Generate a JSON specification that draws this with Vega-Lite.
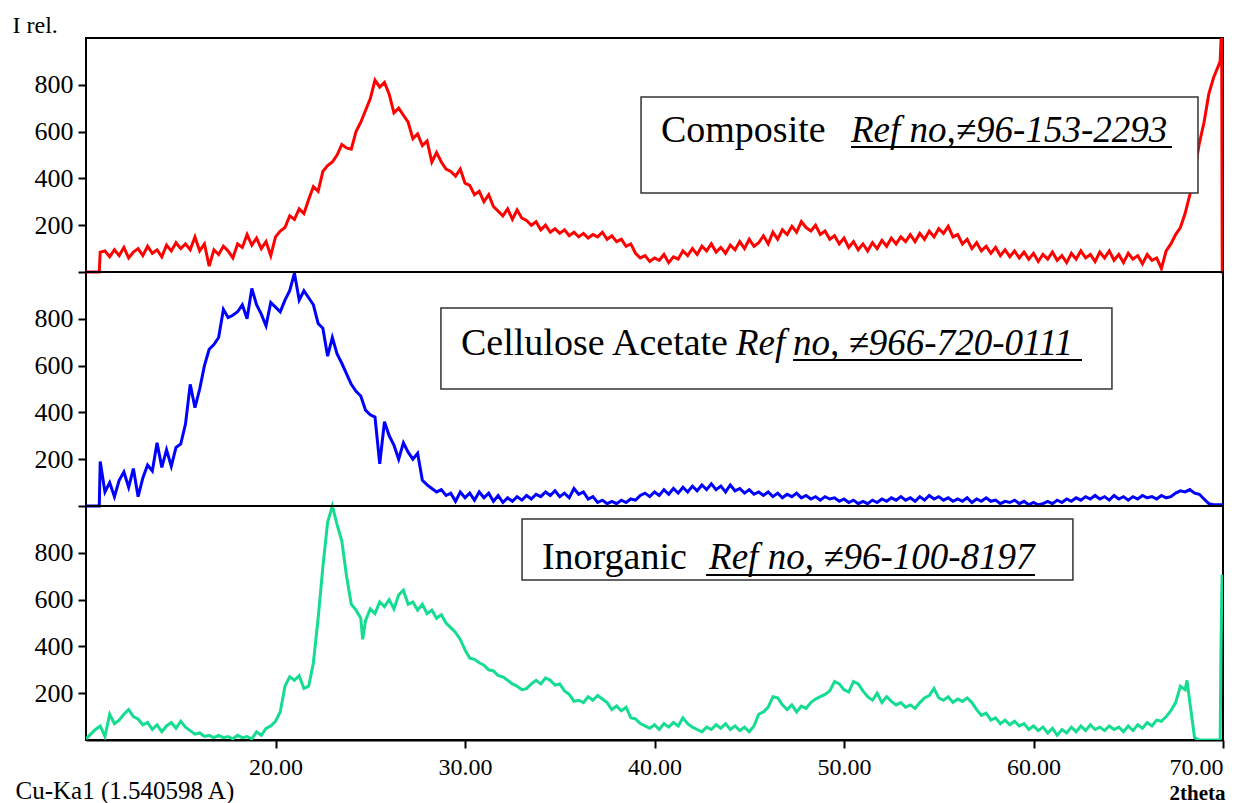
{
"$schema": "https://vega.github.io/schema/vega-lite/v6.json",
"width": 1137,
"height": 702,
"autosize": {"type": "none"},
"padding": {"left": 86, "top": 38, "right": 30, "bottom": 63},
"background": "white",
"config": {
  "view": {"stroke": "black", "strokeWidth": 2},
  "axis": {"labelFont": "Liberation Serif", "titleFont": "Liberation Serif", "labelColor": "black", "titleColor": "black", "tickColor": "black", "domainColor": "black", "grid": false},
  "axisX": {"format": ".2f", "tickSize": 8, "tickWidth": 2, "domainWidth": 2, "labelFontSize": 24, "labelPadding": 7,
            "titleAngle": 0, "titleAlign": "right", "titleBaseline": "alphabetic", "titleX": 1139, "titleY": 59, "titleFontSize": 21, "titleFontWeight": "bold"}
},
"resolve": {"scale": {"y": "independent"}, "axis": {"y": "independent"}},
"layer": [
{
"data": {"values": [
{"t":10,"i":0},{"t":10.25,"i":0},{"t":10.5,"i":0},{"t":10.7,"i":0},{"t":10.75,"i":85},{"t":11,"i":90},{"t":11.25,"i":65},{"t":11.5,"i":95},{"t":11.75,"i":70},{"t":12,"i":105},{"t":12.25,"i":60},{"t":12.5,"i":85},{"t":12.75,"i":100},{"t":13,"i":70},{"t":13.25,"i":110},{"t":13.5,"i":80},{"t":13.75,"i":95},{"t":14,"i":65},{"t":14.25,"i":115},{"t":14.5,"i":90},{"t":14.75,"i":125},{"t":15,"i":100},{"t":15.25,"i":120},{"t":15.5,"i":95},{"t":15.75,"i":150},{"t":16,"i":90},{"t":16.25,"i":120},{"t":16.5,"i":25},{"t":16.75,"i":95},{"t":17,"i":75},{"t":17.25,"i":110},{"t":17.5,"i":90},{"t":17.75,"i":60},{"t":18,"i":120},{"t":18.25,"i":105},{"t":18.5,"i":160},{"t":18.75,"i":115},{"t":19,"i":145},{"t":19.25,"i":100},{"t":19.5,"i":130},{"t":19.75,"i":70},{"t":20,"i":150},{"t":20.25,"i":175},{"t":20.5,"i":190},{"t":20.75,"i":240},{"t":21,"i":225},{"t":21.25,"i":270},{"t":21.5,"i":250},{"t":21.75,"i":310},{"t":22,"i":365},{"t":22.25,"i":345},{"t":22.5,"i":430},{"t":22.75,"i":455},{"t":23,"i":470},{"t":23.25,"i":500},{"t":23.5,"i":545},{"t":23.75,"i":530},{"t":24,"i":525},{"t":24.25,"i":600},{"t":24.5,"i":640},{"t":24.75,"i":690},{"t":25,"i":740},{"t":25.25,"i":820},{"t":25.5,"i":790},{"t":25.75,"i":810},{"t":26,"i":760},{"t":26.25,"i":680},{"t":26.5,"i":700},{"t":26.75,"i":670},{"t":27,"i":640},{"t":27.25,"i":570},{"t":27.5,"i":590},{"t":27.75,"i":540},{"t":28,"i":560},{"t":28.25,"i":470},{"t":28.5,"i":510},{"t":28.75,"i":470},{"t":29,"i":440},{"t":29.25,"i":430},{"t":29.5,"i":410},{"t":29.75,"i":440},{"t":30,"i":380},{"t":30.25,"i":370},{"t":30.5,"i":330},{"t":30.75,"i":345},{"t":31,"i":300},{"t":31.25,"i":330},{"t":31.5,"i":280},{"t":31.75,"i":260},{"t":32,"i":240},{"t":32.25,"i":270},{"t":32.5,"i":225},{"t":32.75,"i":265},{"t":33,"i":230},{"t":33.25,"i":220},{"t":33.5,"i":200},{"t":33.75,"i":215},{"t":34,"i":180},{"t":34.25,"i":200},{"t":34.5,"i":170},{"t":34.75,"i":185},{"t":35,"i":165},{"t":35.25,"i":180},{"t":35.5,"i":155},{"t":35.75,"i":170},{"t":36,"i":150},{"t":36.25,"i":165},{"t":36.5,"i":145},{"t":36.75,"i":160},{"t":37,"i":150},{"t":37.25,"i":170},{"t":37.5,"i":140},{"t":37.75,"i":155},{"t":38,"i":130},{"t":38.25,"i":140},{"t":38.5,"i":110},{"t":38.75,"i":120},{"t":39,"i":80},{"t":39.25,"i":60},{"t":39.5,"i":70},{"t":39.75,"i":45},{"t":40,"i":60},{"t":40.25,"i":50},{"t":40.5,"i":75},{"t":40.75,"i":40},{"t":41,"i":65},{"t":41.25,"i":55},{"t":41.5,"i":90},{"t":41.75,"i":70},{"t":42,"i":100},{"t":42.25,"i":75},{"t":42.5,"i":110},{"t":42.75,"i":90},{"t":43,"i":120},{"t":43.25,"i":85},{"t":43.5,"i":105},{"t":43.75,"i":80},{"t":44,"i":115},{"t":44.25,"i":95},{"t":44.5,"i":130},{"t":44.75,"i":100},{"t":45,"i":140},{"t":45.25,"i":110},{"t":45.5,"i":125},{"t":45.75,"i":155},{"t":46,"i":120},{"t":46.25,"i":170},{"t":46.5,"i":140},{"t":46.75,"i":180},{"t":47,"i":160},{"t":47.25,"i":195},{"t":47.5,"i":170},{"t":47.75,"i":215},{"t":48,"i":190},{"t":48.25,"i":175},{"t":48.5,"i":200},{"t":48.75,"i":160},{"t":49,"i":175},{"t":49.25,"i":140},{"t":49.5,"i":155},{"t":49.75,"i":120},{"t":50,"i":145},{"t":50.25,"i":105},{"t":50.5,"i":130},{"t":50.75,"i":95},{"t":51,"i":120},{"t":51.25,"i":90},{"t":51.5,"i":125},{"t":51.75,"i":100},{"t":52,"i":135},{"t":52.25,"i":110},{"t":52.5,"i":145},{"t":52.75,"i":120},{"t":53,"i":150},{"t":53.25,"i":130},{"t":53.5,"i":160},{"t":53.75,"i":130},{"t":54,"i":165},{"t":54.25,"i":140},{"t":54.5,"i":175},{"t":54.75,"i":150},{"t":55,"i":185},{"t":55.25,"i":165},{"t":55.5,"i":195},{"t":55.75,"i":150},{"t":56,"i":160},{"t":56.25,"i":120},{"t":56.5,"i":140},{"t":56.75,"i":100},{"t":57,"i":125},{"t":57.25,"i":90},{"t":57.5,"i":110},{"t":57.75,"i":80},{"t":58,"i":105},{"t":58.25,"i":70},{"t":58.5,"i":95},{"t":58.75,"i":65},{"t":59,"i":90},{"t":59.25,"i":60},{"t":59.5,"i":85},{"t":59.75,"i":55},{"t":60,"i":80},{"t":60.25,"i":45},{"t":60.5,"i":75},{"t":60.75,"i":55},{"t":61,"i":85},{"t":61.25,"i":50},{"t":61.5,"i":70},{"t":61.75,"i":40},{"t":62,"i":80},{"t":62.25,"i":55},{"t":62.5,"i":90},{"t":62.75,"i":60},{"t":63,"i":75},{"t":63.25,"i":45},{"t":63.5,"i":85},{"t":63.75,"i":60},{"t":64,"i":90},{"t":64.25,"i":50},{"t":64.5,"i":75},{"t":64.75,"i":40},{"t":65,"i":80},{"t":65.25,"i":55},{"t":65.5,"i":70},{"t":65.75,"i":35},{"t":66,"i":75},{"t":66.25,"i":50},{"t":66.5,"i":60},{"t":66.75,"i":15},{"t":67,"i":90},{"t":67.25,"i":120},{"t":67.5,"i":160},{"t":67.75,"i":190},{"t":68,"i":250},{"t":68.25,"i":330},{"t":68.5,"i":430},{"t":68.75,"i":550},{"t":69,"i":640},{"t":69.25,"i":760},{"t":69.5,"i":830},{"t":69.75,"i":880},{"t":69.85,"i":900},{"t":69.9,"i":1000},{"t":69.93,"i":1000},{"t":69.96,"i":0},{"t":70,"i":0}
]},
"mark": {"type": "line", "color": "#ff0000", "strokeWidth": 3, "clip": true},
"encoding": {
  "x": {"field": "t", "type": "quantitative", "scale": {"domain": [10, 70], "nice": false, "zero": false}, "title": "2theta", "axis": {"values": [20, 30, 40, 50, 60, 70]}},
  "y": {"field": "i", "type": "quantitative", "scale": {"domain": [-2000, 1000], "nice": false, "zero": false},
        "axis": {"orient": "left", "values": [0, 200, 400, 600, 800], "labelExpr": "datum.value == 0 ? '' : datum.label", "domain": false, "tickSize": 8, "tickWidth": 2, "labelFontSize": 26, "labelPadding": 5,
                 "title": "I rel.", "titleAngle": 0, "titleAlign": "left", "titleBaseline": "alphabetic", "titleX": -74, "titleY": -6, "titleFontSize": 24, "titleFontWeight": "normal"}}
}
},
{
"data": {"values": [
{"t":10,"i":0},{"t":10.25,"i":0},{"t":10.5,"i":0},{"t":10.7,"i":0},{"t":10.75,"i":190},{"t":11,"i":60},{"t":11.25,"i":100},{"t":11.5,"i":40},{"t":11.75,"i":110},{"t":12,"i":145},{"t":12.25,"i":80},{"t":12.5,"i":160},{"t":12.75,"i":40},{"t":13,"i":120},{"t":13.25,"i":175},{"t":13.5,"i":150},{"t":13.75,"i":270},{"t":14,"i":165},{"t":14.25,"i":240},{"t":14.5,"i":170},{"t":14.75,"i":250},{"t":15,"i":265},{"t":15.25,"i":350},{"t":15.5,"i":520},{"t":15.75,"i":420},{"t":16,"i":500},{"t":16.25,"i":600},{"t":16.5,"i":670},{"t":16.75,"i":690},{"t":17,"i":720},{"t":17.25,"i":840},{"t":17.5,"i":805},{"t":17.75,"i":815},{"t":18,"i":830},{"t":18.25,"i":860},{"t":18.5,"i":800},{"t":18.75,"i":930},{"t":19,"i":860},{"t":19.25,"i":820},{"t":19.5,"i":770},{"t":19.75,"i":870},{"t":20,"i":850},{"t":20.25,"i":830},{"t":20.5,"i":880},{"t":20.75,"i":920},{"t":21,"i":995},{"t":21.25,"i":880},{"t":21.5,"i":920},{"t":21.75,"i":890},{"t":22,"i":860},{"t":22.25,"i":780},{"t":22.5,"i":760},{"t":22.75,"i":640},{"t":23,"i":720},{"t":23.25,"i":650},{"t":23.5,"i":610},{"t":23.75,"i":565},{"t":24,"i":520},{"t":24.25,"i":490},{"t":24.5,"i":470},{"t":24.75,"i":410},{"t":25,"i":390},{"t":25.25,"i":380},{"t":25.5,"i":180},{"t":25.75,"i":360},{"t":26,"i":300},{"t":26.25,"i":260},{"t":26.5,"i":200},{"t":26.75,"i":270},{"t":27,"i":230},{"t":27.25,"i":200},{"t":27.5,"i":225},{"t":27.75,"i":110},{"t":28,"i":90},{"t":28.25,"i":75},{"t":28.5,"i":60},{"t":28.75,"i":70},{"t":29,"i":45},{"t":29.25,"i":55},{"t":29.5,"i":20},{"t":29.75,"i":60},{"t":30,"i":35},{"t":30.25,"i":55},{"t":30.5,"i":25},{"t":30.75,"i":60},{"t":31,"i":35},{"t":31.25,"i":55},{"t":31.5,"i":20},{"t":31.75,"i":45},{"t":32,"i":15},{"t":32.25,"i":35},{"t":32.5,"i":20},{"t":32.75,"i":40},{"t":33,"i":25},{"t":33.25,"i":45},{"t":33.5,"i":30},{"t":33.75,"i":50},{"t":34,"i":40},{"t":34.25,"i":60},{"t":34.5,"i":45},{"t":34.75,"i":65},{"t":35,"i":40},{"t":35.25,"i":55},{"t":35.5,"i":35},{"t":35.75,"i":75},{"t":36,"i":50},{"t":36.25,"i":60},{"t":36.5,"i":30},{"t":36.75,"i":40},{"t":37,"i":15},{"t":37.25,"i":25},{"t":37.5,"i":10},{"t":37.75,"i":20},{"t":38,"i":10},{"t":38.25,"i":25},{"t":38.5,"i":15},{"t":38.75,"i":30},{"t":39,"i":25},{"t":39.25,"i":45},{"t":39.5,"i":55},{"t":39.75,"i":40},{"t":40,"i":60},{"t":40.25,"i":45},{"t":40.5,"i":70},{"t":40.75,"i":50},{"t":41,"i":75},{"t":41.25,"i":55},{"t":41.5,"i":80},{"t":41.75,"i":60},{"t":42,"i":85},{"t":42.25,"i":65},{"t":42.5,"i":90},{"t":42.75,"i":70},{"t":43,"i":95},{"t":43.25,"i":70},{"t":43.5,"i":85},{"t":43.75,"i":60},{"t":44,"i":90},{"t":44.25,"i":65},{"t":44.5,"i":75},{"t":44.75,"i":55},{"t":45,"i":70},{"t":45.25,"i":50},{"t":45.5,"i":60},{"t":45.75,"i":45},{"t":46,"i":60},{"t":46.25,"i":40},{"t":46.5,"i":55},{"t":46.75,"i":35},{"t":47,"i":50},{"t":47.25,"i":40},{"t":47.5,"i":55},{"t":47.75,"i":35},{"t":48,"i":45},{"t":48.25,"i":30},{"t":48.5,"i":40},{"t":48.75,"i":25},{"t":49,"i":40},{"t":49.25,"i":30},{"t":49.5,"i":35},{"t":49.75,"i":20},{"t":50,"i":30},{"t":50.25,"i":15},{"t":50.5,"i":25},{"t":50.75,"i":10},{"t":51,"i":20},{"t":51.25,"i":10},{"t":51.5,"i":25},{"t":51.75,"i":15},{"t":52,"i":30},{"t":52.25,"i":20},{"t":52.5,"i":35},{"t":52.75,"i":25},{"t":53,"i":40},{"t":53.25,"i":25},{"t":53.5,"i":35},{"t":53.75,"i":20},{"t":54,"i":40},{"t":54.25,"i":25},{"t":54.5,"i":45},{"t":54.75,"i":30},{"t":55,"i":40},{"t":55.25,"i":25},{"t":55.5,"i":35},{"t":55.75,"i":20},{"t":56,"i":30},{"t":56.25,"i":20},{"t":56.5,"i":35},{"t":56.75,"i":15},{"t":57,"i":30},{"t":57.25,"i":20},{"t":57.5,"i":35},{"t":57.75,"i":20},{"t":58,"i":25},{"t":58.25,"i":10},{"t":58.5,"i":20},{"t":58.75,"i":15},{"t":59,"i":25},{"t":59.25,"i":10},{"t":59.5,"i":20},{"t":59.75,"i":5},{"t":60,"i":15},{"t":60.25,"i":5},{"t":60.5,"i":10},{"t":60.75,"i":20},{"t":61,"i":10},{"t":61.25,"i":25},{"t":61.5,"i":15},{"t":61.75,"i":30},{"t":62,"i":20},{"t":62.25,"i":35},{"t":62.5,"i":25},{"t":62.75,"i":40},{"t":63,"i":30},{"t":63.25,"i":45},{"t":63.5,"i":30},{"t":63.75,"i":40},{"t":64,"i":25},{"t":64.25,"i":45},{"t":64.5,"i":30},{"t":64.75,"i":40},{"t":65,"i":25},{"t":65.25,"i":40},{"t":65.5,"i":30},{"t":65.75,"i":45},{"t":66,"i":35},{"t":66.25,"i":40},{"t":66.5,"i":30},{"t":66.75,"i":45},{"t":67,"i":35},{"t":67.25,"i":40},{"t":67.5,"i":55},{"t":67.75,"i":65},{"t":68,"i":60},{"t":68.25,"i":70},{"t":68.5,"i":55},{"t":68.75,"i":50},{"t":69,"i":30},{"t":69.25,"i":10},{"t":69.5,"i":5},{"t":69.75,"i":5},{"t":70,"i":5}
]},
"mark": {"type": "line", "color": "#0000ff", "strokeWidth": 3, "clip": true},
"encoding": {
  "x": {"field": "t", "type": "quantitative", "scale": {"domain": [10, 70], "nice": false, "zero": false}, "title": "2theta", "axis": {"values": [20, 30, 40, 50, 60, 70]}},
  "y": {"field": "i", "type": "quantitative", "scale": {"domain": [-1000, 2000], "nice": false, "zero": false},
        "axis": {"orient": "left", "values": [0, 200, 400, 600, 800], "labelExpr": "datum.value == 0 ? '' : datum.label", "domain": false, "tickSize": 8, "tickWidth": 2, "labelFontSize": 26, "labelPadding": 5, "title": null}}
}
},
{
"data": {"values": [
{"t":10,"i":5},{"t":10.25,"i":25},{"t":10.5,"i":45},{"t":10.75,"i":60},{"t":11,"i":15},{"t":11.25,"i":110},{"t":11.5,"i":70},{"t":11.75,"i":85},{"t":12,"i":110},{"t":12.25,"i":130},{"t":12.5,"i":100},{"t":12.75,"i":90},{"t":13,"i":65},{"t":13.25,"i":75},{"t":13.5,"i":45},{"t":13.75,"i":65},{"t":14,"i":35},{"t":14.25,"i":60},{"t":14.5,"i":75},{"t":14.75,"i":50},{"t":15,"i":80},{"t":15.25,"i":55},{"t":15.5,"i":40},{"t":15.75,"i":25},{"t":16,"i":30},{"t":16.25,"i":15},{"t":16.5,"i":20},{"t":16.75,"i":10},{"t":17,"i":20},{"t":17.25,"i":10},{"t":17.5,"i":15},{"t":17.75,"i":5},{"t":18,"i":20},{"t":18.25,"i":10},{"t":18.5,"i":15},{"t":18.75,"i":5},{"t":19,"i":35},{"t":19.25,"i":20},{"t":19.5,"i":50},{"t":19.75,"i":60},{"t":20,"i":80},{"t":20.25,"i":120},{"t":20.5,"i":230},{"t":20.75,"i":270},{"t":21,"i":255},{"t":21.25,"i":275},{"t":21.5,"i":220},{"t":21.75,"i":230},{"t":22,"i":330},{"t":22.25,"i":520},{"t":22.5,"i":740},{"t":22.75,"i":930},{"t":23,"i":1000},{"t":23.25,"i":920},{"t":23.5,"i":850},{"t":23.75,"i":700},{"t":24,"i":580},{"t":24.25,"i":555},{"t":24.5,"i":520},{"t":24.6,"i":430},{"t":24.75,"i":510},{"t":25,"i":560},{"t":25.25,"i":540},{"t":25.5,"i":590},{"t":25.75,"i":570},{"t":26,"i":600},{"t":26.25,"i":560},{"t":26.5,"i":620},{"t":26.75,"i":640},{"t":27,"i":580},{"t":27.25,"i":590},{"t":27.5,"i":555},{"t":27.75,"i":580},{"t":28,"i":540},{"t":28.25,"i":555},{"t":28.5,"i":520},{"t":28.75,"i":535},{"t":29,"i":500},{"t":29.25,"i":480},{"t":29.5,"i":460},{"t":29.75,"i":430},{"t":30,"i":385},{"t":30.25,"i":350},{"t":30.5,"i":345},{"t":30.75,"i":330},{"t":31,"i":320},{"t":31.25,"i":300},{"t":31.5,"i":295},{"t":31.75,"i":275},{"t":32,"i":270},{"t":32.25,"i":255},{"t":32.5,"i":240},{"t":32.75,"i":230},{"t":33,"i":215},{"t":33.25,"i":220},{"t":33.5,"i":240},{"t":33.75,"i":255},{"t":34,"i":240},{"t":34.25,"i":265},{"t":34.5,"i":255},{"t":34.75,"i":235},{"t":35,"i":240},{"t":35.25,"i":210},{"t":35.5,"i":195},{"t":35.75,"i":165},{"t":36,"i":170},{"t":36.25,"i":160},{"t":36.5,"i":185},{"t":36.75,"i":170},{"t":37,"i":190},{"t":37.25,"i":175},{"t":37.5,"i":160},{"t":37.75,"i":130},{"t":38,"i":145},{"t":38.25,"i":125},{"t":38.5,"i":140},{"t":38.75,"i":95},{"t":39,"i":90},{"t":39.25,"i":70},{"t":39.5,"i":60},{"t":39.75,"i":50},{"t":40,"i":65},{"t":40.25,"i":45},{"t":40.5,"i":70},{"t":40.75,"i":55},{"t":41,"i":75},{"t":41.25,"i":60},{"t":41.5,"i":95},{"t":41.75,"i":70},{"t":42,"i":55},{"t":42.25,"i":45},{"t":42.5,"i":35},{"t":42.75,"i":55},{"t":43,"i":45},{"t":43.25,"i":65},{"t":43.5,"i":50},{"t":43.75,"i":70},{"t":44,"i":45},{"t":44.25,"i":60},{"t":44.5,"i":40},{"t":44.75,"i":55},{"t":45,"i":35},{"t":45.25,"i":60},{"t":45.5,"i":110},{"t":45.75,"i":120},{"t":46,"i":140},{"t":46.25,"i":185},{"t":46.5,"i":180},{"t":46.75,"i":150},{"t":47,"i":130},{"t":47.25,"i":150},{"t":47.5,"i":120},{"t":47.75,"i":145},{"t":48,"i":135},{"t":48.25,"i":160},{"t":48.5,"i":175},{"t":48.75,"i":185},{"t":49,"i":195},{"t":49.25,"i":210},{"t":49.5,"i":250},{"t":49.75,"i":240},{"t":50,"i":215},{"t":50.25,"i":205},{"t":50.5,"i":250},{"t":50.75,"i":240},{"t":51,"i":210},{"t":51.25,"i":185},{"t":51.5,"i":170},{"t":51.75,"i":200},{"t":52,"i":160},{"t":52.25,"i":185},{"t":52.5,"i":165},{"t":52.75,"i":150},{"t":53,"i":160},{"t":53.25,"i":140},{"t":53.5,"i":150},{"t":53.75,"i":135},{"t":54,"i":160},{"t":54.25,"i":180},{"t":54.5,"i":190},{"t":54.75,"i":220},{"t":55,"i":180},{"t":55.25,"i":170},{"t":55.5,"i":185},{"t":55.75,"i":160},{"t":56,"i":175},{"t":56.25,"i":165},{"t":56.5,"i":180},{"t":56.75,"i":160},{"t":57,"i":130},{"t":57.25,"i":105},{"t":57.5,"i":115},{"t":57.75,"i":85},{"t":58,"i":95},{"t":58.25,"i":70},{"t":58.5,"i":85},{"t":58.75,"i":65},{"t":59,"i":80},{"t":59.25,"i":60},{"t":59.5,"i":70},{"t":59.75,"i":45},{"t":60,"i":60},{"t":60.25,"i":40},{"t":60.5,"i":55},{"t":60.75,"i":30},{"t":61,"i":50},{"t":61.25,"i":20},{"t":61.5,"i":45},{"t":61.75,"i":30},{"t":62,"i":55},{"t":62.25,"i":35},{"t":62.5,"i":60},{"t":62.75,"i":40},{"t":63,"i":65},{"t":63.25,"i":45},{"t":63.5,"i":55},{"t":63.75,"i":40},{"t":64,"i":60},{"t":64.25,"i":45},{"t":64.5,"i":55},{"t":64.75,"i":35},{"t":65,"i":60},{"t":65.25,"i":40},{"t":65.5,"i":65},{"t":65.75,"i":50},{"t":66,"i":75},{"t":66.25,"i":60},{"t":66.5,"i":85},{"t":66.75,"i":80},{"t":67,"i":100},{"t":67.25,"i":125},{"t":67.5,"i":160},{"t":67.75,"i":230},{"t":68,"i":215},{"t":68.1,"i":255},{"t":68.25,"i":160},{"t":68.5,"i":10},{"t":68.75,"i":0},{"t":69,"i":0},{"t":69.25,"i":0},{"t":69.5,"i":0},{"t":69.75,"i":0},{"t":69.85,"i":0},{"t":69.9,"i":430},{"t":69.95,"i":700},{"t":70,"i":700}
]},
"mark": {"type": "line", "color": "#14dc90", "strokeWidth": 3, "clip": true},
"encoding": {
  "x": {"field": "t", "type": "quantitative", "scale": {"domain": [10, 70], "nice": false, "zero": false}, "title": "2theta", "axis": {"values": [20, 30, 40, 50, 60, 70]}},
  "y": {"field": "i", "type": "quantitative", "scale": {"domain": [0, 3000], "nice": false, "zero": false},
        "axis": {"orient": "left", "values": [200, 400, 600, 800], "domain": false, "tickSize": 8, "tickWidth": 2,
                 "labelFontSize": 26, "labelPadding": 5,
                 "title": "Cu-Ka1 (1.540598 A)", "titleAngle": 0, "titleAlign": "left", "titleBaseline": "alphabetic", "titleX": -71, "titleY": 760, "titleFontSize": 25, "titleFontWeight": "normal"}}
}
},
{
"data": {"values": [{"i": 0, "p": "Composite"}]},
"mark": {"type": "rule", "color": "black", "strokeWidth": 2},
"encoding": {"y": {"field": "i", "type": "quantitative", "scale": {"domain": [-2000, 1000], "nice": false, "zero": false}, "axis": null}}
},
{
"data": {"values": [{"i": 0, "p": "Cellulose"}]},
"mark": {"type": "rule", "color": "black", "strokeWidth": 2},
"encoding": {"y": {"field": "i", "type": "quantitative", "scale": {"domain": [-1000, 2000], "nice": false, "zero": false}, "axis": null}}
},
{
"data": {"values": [{"x1": 39.29, "x2": 68.68, "y1": 748, "y2": 338}]},
"mark": {"type": "rect", "fill": "white", "stroke": "#333333", "strokeWidth": 1.5},
"encoding": {
  "x": {"field": "x1", "type": "quantitative", "title": "2theta", "axis": {"values": [20, 30, 40, 50, 60, 70]}},
  "x2": {"field": "x2"},
  "y": {"field": "y1", "type": "quantitative", "scale": {"domain": [-2000, 1000], "nice": false, "zero": false}, "axis": null},
  "y2": {"field": "y2"}
}
},
{
"data": {"values": [{"t": 40.34, "i": 556, "label": "Composite"}]},
"mark": {"type": "text", "align": "left", "baseline": "alphabetic", "font": "Liberation Serif", "fontSize": 38, "color": "black"},
"encoding": {
  "x": {"field": "t", "type": "quantitative", "title": "2theta", "axis": {"values": [20, 30, 40, 50, 60, 70]}},
  "y": {"field": "i", "type": "quantitative", "scale": {"domain": [-2000, 1000], "nice": false, "zero": false}, "axis": null},
  "text": {"field": "label"}
}
},
{
"data": {"values": [{"t": 50.37, "i": 556, "label": "Ref no,≠96-153-2293"}]},
"mark": {"type": "text", "align": "left", "baseline": "alphabetic", "font": "Liberation Serif", "fontSize": 37, "fontStyle": "italic", "color": "black"},
"encoding": {
  "x": {"field": "t", "type": "quantitative", "title": "2theta", "axis": {"values": [20, 30, 40, 50, 60, 70]}},
  "y": {"field": "i", "type": "quantitative", "scale": {"domain": [-2000, 1000], "nice": false, "zero": false}, "axis": null},
  "text": {"field": "label"}
}
},
{
"data": {"values": [{"t": 50.37, "t2": 67.31, "i": 534}]},
"mark": {"type": "rule", "color": "black", "strokeWidth": 2},
"encoding": {
  "x": {"field": "t", "type": "quantitative", "title": "2theta", "axis": {"values": [20, 30, 40, 50, 60, 70]}},
  "x2": {"field": "t2"},
  "y": {"field": "i", "type": "quantitative", "scale": {"domain": [-2000, 1000], "nice": false, "zero": false}, "axis": null}
}
},
{
"data": {"values": [{"x1": 28.73, "x2": 64.14, "y1": 846, "y2": 500}]},
"mark": {"type": "rect", "fill": "white", "stroke": "#333333", "strokeWidth": 1.5},
"encoding": {
  "x": {"field": "x1", "type": "quantitative", "title": "2theta", "axis": {"values": [20, 30, 40, 50, 60, 70]}},
  "x2": {"field": "x2"},
  "y": {"field": "y1", "type": "quantitative", "scale": {"domain": [-1000, 2000], "nice": false, "zero": false}, "axis": null},
  "y2": {"field": "y2"}
}
},
{
"data": {"values": [{"t": 29.79, "i": 645, "label": "Cellulose Acetate"}]},
"mark": {"type": "text", "align": "left", "baseline": "alphabetic", "font": "Liberation Serif", "fontSize": 38, "color": "black"},
"encoding": {
  "x": {"field": "t", "type": "quantitative", "title": "2theta", "axis": {"values": [20, 30, 40, 50, 60, 70]}},
  "y": {"field": "i", "type": "quantitative", "scale": {"domain": [-1000, 2000], "nice": false, "zero": false}, "axis": null},
  "text": {"field": "label"}
}
},
{
"data": {"values": [{"t": 44.3, "i": 645, "label": "Ref"}, {"t": 47.31, "i": 645, "label": "no, ≠966-720-0111"}]},
"mark": {"type": "text", "align": "left", "baseline": "alphabetic", "font": "Liberation Serif", "fontSize": 37, "fontStyle": "italic", "color": "black"},
"encoding": {
  "x": {"field": "t", "type": "quantitative", "title": "2theta", "axis": {"values": [20, 30, 40, 50, 60, 70]}},
  "y": {"field": "i", "type": "quantitative", "scale": {"domain": [-1000, 2000], "nice": false, "zero": false}, "axis": null},
  "text": {"field": "label"}
}
},
{
"data": {"values": [{"t": 47.31, "t2": 62.56, "i": 624}]},
"mark": {"type": "rule", "color": "black", "strokeWidth": 2},
"encoding": {
  "x": {"field": "t", "type": "quantitative", "title": "2theta", "axis": {"values": [20, 30, 40, 50, 60, 70]}},
  "x2": {"field": "t2"},
  "y": {"field": "i", "type": "quantitative", "scale": {"domain": [-1000, 2000], "nice": false, "zero": false}, "axis": null}
}
},
{
"data": {"values": [{"x1": 33.01, "x2": 62.08, "y1": 944, "y2": 684}]},
"mark": {"type": "rect", "fill": "white", "stroke": "#333333", "strokeWidth": 1.5},
"encoding": {
  "x": {"field": "x1", "type": "quantitative", "title": "2theta", "axis": {"values": [20, 30, 40, 50, 60, 70]}},
  "x2": {"field": "x2"},
  "y": {"field": "y1", "type": "quantitative", "scale": {"domain": [0, 3000], "nice": false, "zero": false}, "axis": null},
  "y2": {"field": "y2"}
}
},
{
"data": {"values": [{"t": 34.06, "i": 731, "label": "Inorganic"}]},
"mark": {"type": "text", "align": "left", "baseline": "alphabetic", "font": "Liberation Serif", "fontSize": 38, "color": "black"},
"encoding": {
  "x": {"field": "t", "type": "quantitative", "title": "2theta", "axis": {"values": [20, 30, 40, 50, 60, 70]}},
  "y": {"field": "i", "type": "quantitative", "scale": {"domain": [0, 3000], "nice": false, "zero": false}, "axis": null},
  "text": {"field": "label"}
}
},
{
"data": {"values": [{"t": 42.88, "i": 731, "label": "Ref no, ≠96-100-8197"}]},
"mark": {"type": "text", "align": "left", "baseline": "alphabetic", "font": "Liberation Serif", "fontSize": 37, "fontStyle": "italic", "color": "black"},
"encoding": {
  "x": {"field": "t", "type": "quantitative", "title": "2theta", "axis": {"values": [20, 30, 40, 50, 60, 70]}},
  "y": {"field": "i", "type": "quantitative", "scale": {"domain": [0, 3000], "nice": false, "zero": false}, "axis": null},
  "text": {"field": "label"}
}
},
{
"data": {"values": [{"t": 42.72, "t2": 60.08, "i": 705}]},
"mark": {"type": "rule", "color": "black", "strokeWidth": 2},
"encoding": {
  "x": {"field": "t", "type": "quantitative", "title": "2theta", "axis": {"values": [20, 30, 40, 50, 60, 70]}},
  "x2": {"field": "t2"},
  "y": {"field": "i", "type": "quantitative", "scale": {"domain": [0, 3000], "nice": false, "zero": false}, "axis": null}
}
}
]
}
